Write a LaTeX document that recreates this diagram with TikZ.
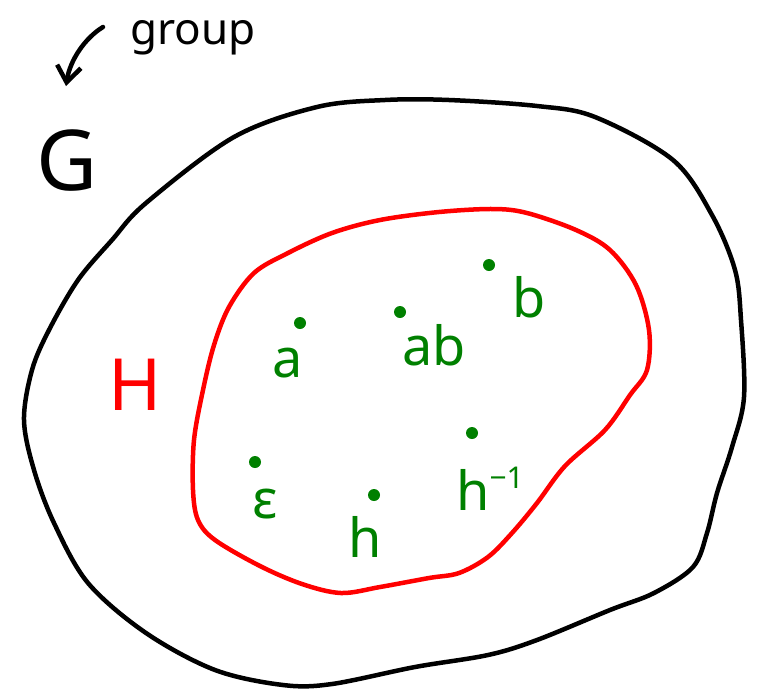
\documentclass[tikz,border=0pt]{standalone}
\usepackage{fontspec}
\setmainfont{Noto Sans}
\usetikzlibrary{arrows.meta}
\definecolor{elgreen}{RGB}{0,128,0}
\begin{document}
\begin{tikzpicture}[x=1pt,y=-1pt,
  outline/.style={line width=4.5pt, line join=round},
  elem/.style={circle, fill=elgreen, inner sep=0pt, minimum size=12pt},
  lbl/.style={text=elgreen, inner sep=0pt, anchor=base west, font=\fontsize{54}{60}\selectfont},
  hand/.style={inner sep=0pt, anchor=base west}]
\useasboundingbox (0,0) rectangle (757,689);
% outer set G
\draw[outline, black] plot[smooth cycle, tension=0.55] coordinates {
 (385,100) (449,100) (537,106) (595,117) (673,160) (712,215) (735,270) (741,320)
 (744,397) (732,447) (717,493) (707,533) (693,567) (654,593) (610,610) (537,640)
 (488,655) (415,667) (332,684) (283,685) (215,670) (146,633) (88,583) (54,523)
 (34,470) (24,420) (32,370) (49,330) (78,280) (112,240) (146,203) (234,137) (317,107)};
% subgroup H
\draw[outline, red] plot[smooth cycle, tension=0.55] coordinates {
 (493,209) (527,213) (576,230) (610,250) (636,285) (649,330) (647,370) (630,395)
 (605,430) (565,466) (537,503) (512,533) (488,557) (459,573) (429,578) (380,587)
 (341,593) (302,584) (260,566) (215,540) (198,520) (193,490) (194,440)
 (203,390) (214,345) (229,307) (254,273) (288,253) (332,233) (380,220) (439,212)};
% labels G, H, group
\node[hand, font=\fontsize{84}{90}\selectfont] (G) at (36,190) {G};
\node[hand, text=red, font=\fontsize{72}{80}\selectfont] (H) at (108,410) {H};
\node[hand, font=\fontsize{44}{50}\selectfont] (grp) at (130,44) {group};
\coordinate (arrS) at (103,27);
\coordinate (arrE) at (66,86);
\draw[line width=4.5pt, line cap=round, -{Straight Barb[length=16pt,width=24pt,line width=4.5pt]}]
  (arrS) .. controls (85,38) and (70,60) .. (arrE);
% elements
\node[elem] (da) at (300,323) {};
\node[lbl] (la) at (272,377) {a};
\node[elem] (dab) at (400,312) {};
\node[lbl] (lab) at (402,365) {ab};
\node[elem] (db) at (489,265) {};
\node[lbl] (lb) at (512,317) {b};
\node[elem] (de) at (255,462) {};
\node[lbl] (le) at (252,518) {ε};
\node[elem] (dh) at (374,495) {};
\node[lbl] (lh) at (348,557) {h};
\node[elem] (dhi) at (472,433) {};
\node[lbl] (lhi) at (456,510) {h\raisebox{22pt}{\fontsize{30}{34}\selectfont −1}};
\end{tikzpicture}
\end{document}
